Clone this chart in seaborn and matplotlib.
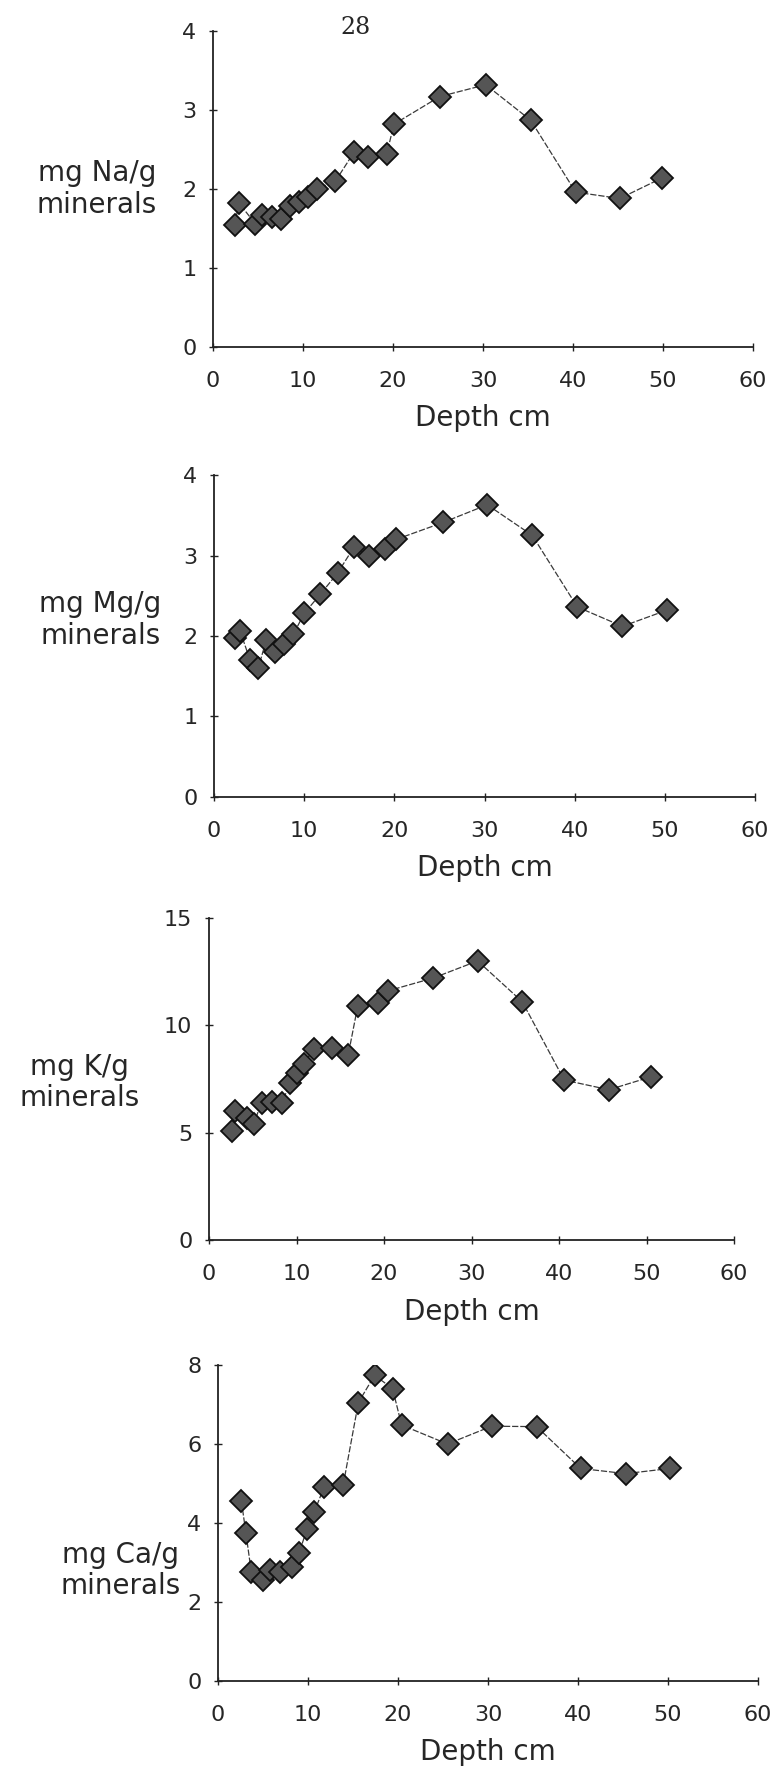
import numpy as np
import pandas as pd
import matplotlib
matplotlib.use("Agg")
import matplotlib.pyplot as plt
import seaborn as sns

sns.set_style("ticks")
plt.rcParams['font.family'] = ['DejaVu Sans']

# depth (cm) and concentration per element
na_depth = [2.4, 2.9, 4.7, 5.4, 6.5, 7.6, 8.5, 9.6, 10.6, 11.5, 13.6, 15.7, 17.2, 19.3, 20.1, 25.2, 30.3, 35.3, 40.3, 45.2, 49.9]
na_val = [1.55, 1.82, 1.56, 1.67, 1.65, 1.62, 1.78, 1.84, 1.90, 2.00, 2.10, 2.47, 2.41, 2.44, 2.82, 3.17, 3.32, 2.87, 1.96, 1.88, 2.14]

mg_depth = [2.3, 2.9, 4.0, 4.9, 5.8, 6.8, 7.8, 8.8, 10.0, 11.8, 13.7, 15.5, 17.2, 19.0, 20.2, 25.4, 30.3, 35.3, 40.3, 45.3, 50.2]
mg_val = [1.97, 2.06, 1.70, 1.60, 1.95, 1.80, 1.90, 2.02, 2.28, 2.52, 2.78, 3.10, 3.00, 3.08, 3.20, 3.41, 3.63, 3.25, 2.36, 2.12, 2.32]

k_depth = [2.6, 3.0, 4.3, 5.1, 6.0, 7.2, 8.3, 9.3, 10.0, 10.8, 12.0, 14.0, 15.9, 17.0, 19.3, 20.4, 25.6, 30.7, 35.8, 40.6, 45.7, 50.5]
k_val = [5.1, 6.0, 5.7, 5.4, 6.4, 6.45, 6.4, 7.3, 7.8, 8.2, 8.9, 8.95, 8.6, 10.9, 11.05, 11.6, 12.2, 13.0, 11.1, 7.45, 7.0, 7.6]

ca_depth = [2.6, 3.1, 3.7, 5.0, 5.8, 6.9, 8.2, 9.0, 9.9, 10.7, 11.8, 13.9, 15.6, 17.4, 19.4, 20.4, 25.5, 30.4, 35.4, 40.3, 45.3, 50.2]
ca_val = [4.55, 3.75, 2.76, 2.55, 2.80, 2.76, 2.89, 3.23, 3.86, 4.28, 4.92, 4.95, 7.05, 7.74, 7.40, 6.48, 6.00, 6.45, 6.44, 5.38, 5.25, 5.38]

ylabels = ["mg Na/g\nminerals", "mg Mg/g\nminerals", "mg K/g\nminerals", "mg Ca/g\nminerals"]
yticks = [[0, 1, 2, 3, 4], [0, 1, 2, 3, 4], [0, 5, 10, 15], [0, 2, 4, 6, 8]]
xticks = [0, 10, 20, 30, 40, 50, 60]

W, H = 784, 1777
# axes boxes in pixels: left, right, top, bottom
boxes = [(213, 753, 31, 347), (214, 755, 475, 797), (209, 734, 918, 1240), (218, 758, 1365, 1681)]
label_pos = [(-0.215, 0.50), (-0.21, 0.55), (-0.246, 0.49), (-0.18, 0.35)]

series = [(na_depth, na_val), (mg_depth, mg_val), (k_depth, k_val), (ca_depth, ca_val)]

fig = plt.figure(figsize=(W / 100, H / 100), dpi=100)
fig.patch.set_facecolor("white")

for i, (dep, val) in enumerate(series):
    l, r, t, b = boxes[i]
    ax = fig.add_axes([l / W, 1 - b / H, (r - l) / W, (b - t) / H])
    df = pd.DataFrame({"depth": dep, "value": val})
    sns.lineplot(data=df, x="depth", y="value", sort=False, ax=ax,
                 color="#3a3a3a", linewidth=0.9, linestyle=(0, (5, 1.5)),
                 marker="D", markersize=11, markerfacecolor="#555555",
                 markeredgecolor="#111111", markeredgewidth=1.3)
    ax.set_xlim(0, 60)
    ax.set_ylim(0, yticks[i][-1])
    ax.set_xticks(xticks)
    ax.set_yticks(yticks[i])
    ax.tick_params(direction="inout", length=6, width=1, labelsize=16, color="#222222")
    ax.tick_params(axis="x", pad=14)
    ax.tick_params(axis="y", pad=9)
    for s in ["top", "right"]:
        ax.spines[s].set_visible(False)
    for s in ["left", "bottom"]:
        ax.spines[s].set_linewidth(1.3)
        ax.spines[s].set_color("#222222")
    ax.set_xlabel("Depth cm", fontsize=20, labelpad=10)
    ax.set_ylabel(ylabels[i], fontsize=20, rotation=0, ha="center", va="center", linespacing=1.15)
    ax.yaxis.set_label_coords(*label_pos[i])
    ax.set_facecolor("white")

fig.text(356 / W, 1 - 27 / H, "28", fontsize=17, family="DejaVu Serif", ha="center", va="center")

fig.savefig("out.png", dpi=100, facecolor="white")
